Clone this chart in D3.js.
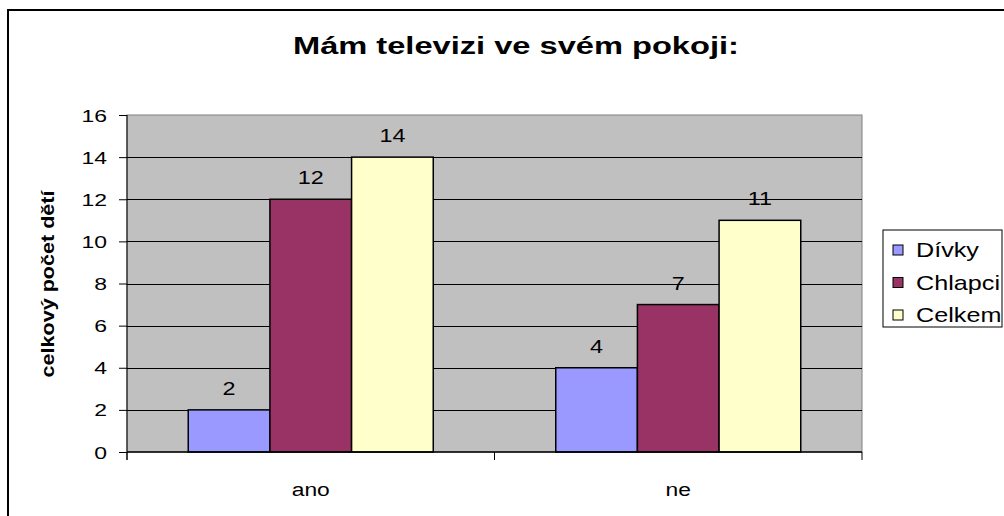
<!DOCTYPE html>
<html>
<head>
<meta charset="utf-8">
<script src="https://cdn.jsdelivr.net/npm/d3@7"></script>
<style>
  body { margin: 0; background: #fff; }
  svg { font-family: "Liberation Sans", Arial, sans-serif; }
</style>
</head>
<body>
<svg></svg>
<script>
const categories = ["ano", "ne"];
const seriesNames = ["Dívky", "Chlapci", "Celkem"];
const divky = [2, 4];
const chlapci = [12, 7];
const celkem = [14, 11];
const yTicks = [0, 2, 4, 6, 8, 10, 12, 14, 16];
const colors = ["#9999ff", "#993366", "#ffffcc"];

const size = { w: 1004, h: 516 };
const plot = { l: 127, r: 862, t: 115, b: 452 };
const svg = d3.select("svg").attr("width", size.w).attr("height", size.h);

// the original text is drawn wider than normal Arial
const sx = 1.3;

// chart border (right and bottom edges fall outside the picture)
svg.append("rect")
  .attr("x", 8).attr("y", 10)
  .attr("width", 1020).attr("height", 530)
  .attr("fill", "#fff").attr("stroke", "#000").attr("stroke-width", 2);

const series = [divky, chlapci, celkem];

const x0 = d3.scaleBand().domain(categories).range([plot.l, plot.r]);
// gap width 150% -> bar = band / 4.5
const barW = x0.bandwidth() / 4.5;
const y = d3.scaleLinear().domain([0, 16]).range([plot.b, plot.t]);

// plot background
svg.append("rect")
  .attr("x", plot.l).attr("y", plot.t)
  .attr("width", plot.r - plot.l).attr("height", plot.b - plot.t)
  .attr("fill", "#c0c0c0").attr("stroke", "#808080").attr("stroke-width", 1);

// gridlines
svg.append("g").selectAll("line")
  .data(yTicks.filter(d => d > 0 && d < 16))
  .join("line")
  .attr("x1", plot.l).attr("x2", plot.r)
  .attr("y1", d => Math.round(y(d)) + 0.5).attr("y2", d => Math.round(y(d)) + 0.5)
  .attr("stroke", "#000").attr("stroke-width", 1);

// bars
const groups = svg.append("g").selectAll("g")
  .data(categories)
  .join("g")
  .attr("transform", d => `translate(${x0(d)},0)`);

const cells = (c, i) => series.map((s, k) => ({ k, v: s[i] }));

groups.selectAll("rect")
  .data(cells)
  .join("rect")
  .attr("x", d => barW * 0.75 + d.k * barW)
  .attr("y", d => y(d.v))
  .attr("width", barW)
  .attr("height", d => y(0) - y(d.v))
  .attr("fill", d => colors[d.k])
  .attr("stroke", "#000").attr("stroke-width", 1.5);

groups.selectAll("text")
  .data(cells)
  .join("text")
  .attr("transform", d => `translate(${barW * 0.75 + d.k * barW + barW / 2},${y(d.v) - 15}) scale(${sx},1)`)
  .attr("text-anchor", "middle")
  .attr("font-size", 18)
  .text(d => d.v);

// y axis
const yAxis = svg.append("g")
  .attr("transform", `translate(${plot.l},0)`)
  .call(d3.axisLeft(y).tickValues(yTicks).tickSize(8).tickPadding(0));
yAxis.select(".domain").attr("stroke", "#000").attr("d", `M0,${plot.t}V${plot.b + 8}`);
yAxis.selectAll(".tick line").attr("stroke", "#000");
yAxis.selectAll(".tick text")
  .attr("x", null).attr("dy", null)
  .attr("transform", `translate(-20,6) scale(1.35,1)`)
  .attr("font-size", 17).attr("font-family", "Liberation Sans, Arial, sans-serif").attr("fill", "#000");

// x axis
const xAxis = svg.append("g").attr("transform", `translate(0,${plot.b})`);
xAxis.append("line").attr("x1", plot.l).attr("x2", plot.r).attr("stroke", "#000").attr("stroke-width", 1.5);
xAxis.selectAll("line.tk")
  .data([plot.l, x0("ne"), plot.r])
  .join("line").attr("class", "tk")
  .attr("x1", d => d).attr("x2", d => d).attr("y1", 0).attr("y2", 8)
  .attr("stroke", "#000");
xAxis.selectAll("text")
  .data(categories)
  .join("text")
  .attr("transform", d => `translate(${x0(d) + x0.bandwidth() / 2},44) scale(1.2,1)`)
  .attr("text-anchor", "middle")
  .attr("font-size", 19)
  .text(d => d);

// title
svg.append("text")
  .attr("transform", `translate(293,54) scale(1.36,1)`)
  .attr("font-size", 24).attr("font-weight", "bold")
  .text("Mám televizi ve svém pokoji:");

// y axis title
svg.append("text")
  .attr("transform", "translate(54,284) rotate(-90)")
  .attr("text-anchor", "middle")
  .attr("font-size", 18).attr("font-weight", "bold")
  .attr("textLength", 187).attr("lengthAdjust", "spacingAndGlyphs")
  .text("celkový počet dětí");

// legend
const legend = svg.append("g");
legend.append("rect")
  .attr("x", 883).attr("y", 230).attr("width", 119).attr("height", 97)
  .attr("fill", "#fff").attr("stroke", "#000").attr("stroke-width", 1);
const li = legend.selectAll("g.item")
  .data(seriesNames)
  .join("g").attr("class", "item")
  .attr("transform", (d, i) => `translate(893,${250 + i * 32.5})`);
li.append("rect")
  .attr("x", 0).attr("y", -5).attr("width", 10).attr("height", 10)
  .attr("fill", (d, i) => colors[i]).attr("stroke", "#000").attr("stroke-width", 1);
li.append("text")
  .attr("transform", "translate(23,7) scale(1.26,1)")
  .attr("font-size", 20)
  .text(d => d);
</script>
</body>
</html>
